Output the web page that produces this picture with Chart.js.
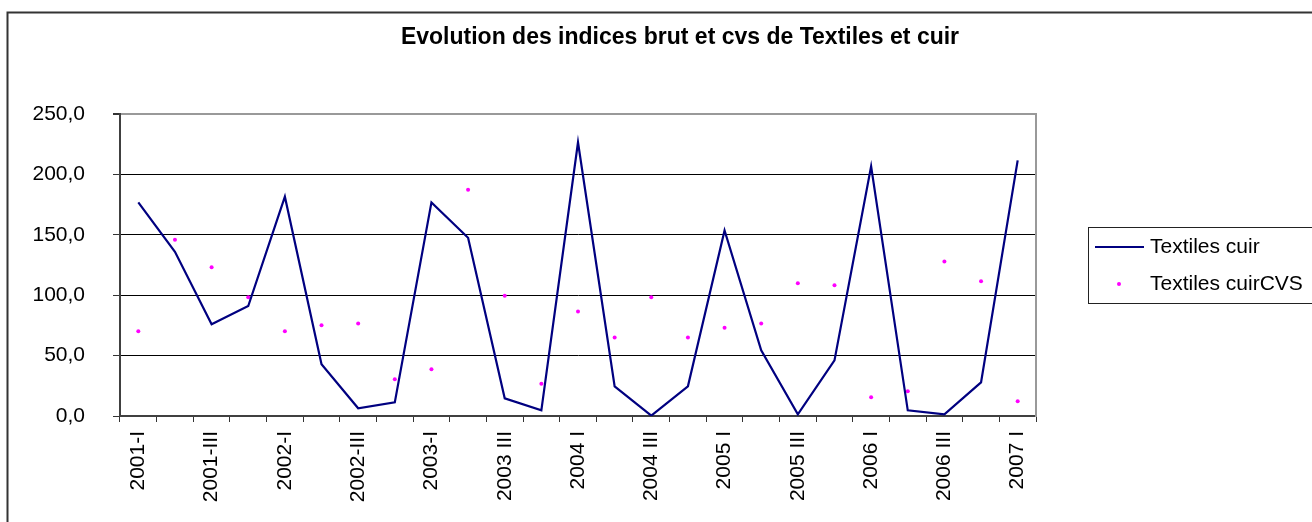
<!DOCTYPE html>
<html>
<head>
<meta charset="utf-8">
<script src="https://cdn.jsdelivr.net/npm/chart.js@4.4.1/dist/chart.umd.min.js"></script>
<style>
  html, body { margin: 0; padding: 0; background: #fff; overflow: hidden; }
  canvas { display: block; }
</style>
</head>
<body>
<canvas id="chart" width="1360" height="522"></canvas>
<script>
// Quarters, one point each
const quarters = [
  '2001-I', '2001-II', '2001-III', '2001-IV',
  '2002-I', '2002-II', '2002-III', '2002-IV',
  '2003-I', '2003 II', '2003 III', '2003 IV',
  '2004 I', '2004 II', '2004 III', '2004 IV',
  '2005 I', '2005 II', '2005 III', '2005 IV',
  '2006 I', '2006 II', '2006 III', '2006 IV',
  '2007 I'
];

// Raw index
const textilesCuir = [
  176.9, 136.0, 75.9, 91.1, 181.6, 42.8, 6.4, 11.3, 176.9, 147.6, 14.6, 4.7,
  226.6, 24.6, 0.3, 24.6, 153.7, 54.4, 1.4, 46.1, 206.7, 4.7, 1.4, 27.9, 211.7
];

// Seasonally adjusted index (points only)
const textilesCuirCVS = [
  70.1, 145.9, 123.1, 98.3, 70.1, 75.1, 76.7, 30.4, 38.7, 187.3, 99.6, 26.8,
  86.6, 65.1, 98.3, 65.1, 73.1, 76.7, 109.9, 108.2, 15.5, 20.4, 128.0, 111.5, 12.2
];

const yTickLabels = ['0,0', '50,0', '100,0', '150,0', '200,0', '250,0'];

const FONT = '"Liberation Sans", Arial, sans-serif';

// Outer chart frame (runs off the right and bottom edges)
const framePlugin = {
  id: 'frame',
  beforeDraw: (chart) => {
    const ctx = chart.ctx;
    ctx.save();
    ctx.strokeStyle = '#333';
    ctx.lineWidth = 2;
    ctx.strokeRect(7.5, 12.5, chart.width + 20, chart.height + 20);
    ctx.restore();
  }
};

// Excel style legend box to the right of the plot
const legendPlugin = {
  id: 'legendBox',
  afterDraw: (chart) => {
    const {ctx, chartArea} = chart;
    const ds = chart.data.datasets;
    const x0 = chartArea.right + 52;
    const y0 = Math.round((chartArea.top + chartArea.bottom) / 2) - 38;
    ctx.save();
    ctx.strokeStyle = '#222';
    ctx.lineWidth = 1;
    ctx.strokeRect(x0 + 0.5, y0 + 0.5, 400, 76);

    const row1 = y0 + 20;
    const row2 = y0 + 57;
    ctx.strokeStyle = ds[0].borderColor;
    ctx.lineWidth = ds[0].borderWidth;
    ctx.beginPath();
    ctx.moveTo(x0 + 7, row1);
    ctx.lineTo(x0 + 56, row1);
    ctx.stroke();

    ctx.fillStyle = ds[1].pointBackgroundColor;
    ctx.beginPath();
    ctx.arc(x0 + 31, row2, ds[1].pointRadius, 0, Math.PI * 2);
    ctx.fill();

    ctx.fillStyle = '#000';
    ctx.font = `21px ${FONT}`;
    ctx.textBaseline = 'middle';
    ctx.textAlign = 'left';
    ctx.fillText(ds[0].label, x0 + 62, row1);
    ctx.fillText(ds[1].label, x0 + 62, row2);
    ctx.restore();
  }
};

new Chart(document.getElementById('chart'), {
  type: 'line',
  data: {
    labels: quarters,
    datasets: [
      {
        label: 'Textiles cuir',
        data: textilesCuir,
        borderColor: '#000080',
        borderWidth: 2.2,
        pointRadius: 0,
        tension: 0,
        fill: false
      },
      {
        label: 'Textiles cuirCVS',
        data: textilesCuirCVS,
        showLine: false,
        pointRadius: 2,
        pointBackgroundColor: '#FF00FF',
        pointBorderWidth: 0,
        borderColor: '#FF00FF'
      }
    ]
  },
  options: {
    responsive: false,
    animation: false,
    layout: { padding: 0 },
    plugins: {
      legend: { display: false },
      tooltip: { enabled: false },
      title: {
        display: true,
        text: 'Evolution des indices brut et cvs de Textiles et cuir',
        color: '#000',
        font: { family: FONT, size: 23, weight: 'bold' },
        padding: { top: 23.5, bottom: 63 }
      }
    },
    scales: {
      x: {
        offset: true,
        grid: {
          offset: true,
          drawOnChartArea: false,
          drawTicks: true,
          tickLength: 6,
          tickColor: '#333',
          tickWidth: 1
        },
        border: { color: '#404040', width: 2 },
        ticks: {
          autoSkip: false,
          minRotation: 90,
          maxRotation: 90,
          padding: 9,
          color: '#000',
          font: { family: FONT, size: 21 },
          callback: (value, index) => (index % 2 === 0 ? quarters[index] : '')
        },
        afterFit: (scale) => { scale.height = 106; }
      },
      y: {
        min: 0,
        max: 250,
        ticks: {
          stepSize: 50,
          padding: 28,
          color: '#000',
          font: { family: FONT, size: 21 },
          callback: (value, index) => yTickLabels[index]
        },
        grid: {
          color: (c) => (c.tick && c.tick.value === 250 ? '#999' : '#000'),
          lineWidth: (c) => (c.tick && c.tick.value === 250 ? 2 : 1),
          tickLength: 7,
          tickColor: '#333'
        },
        border: { color: '#404040', width: 2 },
        afterFit: (scale) => { scale.width = 120; }
      },
      // empty axis that reserves the legend area and draws the grey right edge of the plot
      pad: {
        type: 'linear',
        position: 'right',
        display: true,
        grid: { drawOnChartArea: false, drawTicks: false },
        ticks: { display: false },
        border: { color: '#999', width: 2 },
        afterFit: (scale) => { scale.width = 324; }
      }
    }
  },
  plugins: [framePlugin, legendPlugin]
});
</script>
</body>
</html>
